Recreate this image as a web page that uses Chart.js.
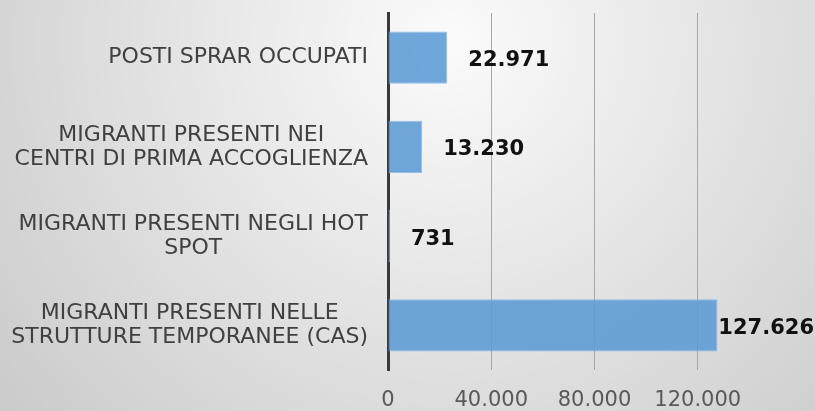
<!DOCTYPE html>
<html>
<head>
<meta charset="utf-8">
<script src="https://cdn.jsdelivr.net/npm/chart.js@4/dist/chart.umd.min.js"></script>
<style>
  html, body { margin: 0; padding: 0; background: #dcdcdc; }
  #wrap { width: 815px; height: 411px; }
</style>
</head>
<body>
<div id="wrap"><canvas id="c" width="815" height="411"></canvas></div>
<script>
const categories = [
  ['POSTI SPRAR OCCUPATI'],
  ['MIGRANTI PRESENTI NEI', 'CENTRI DI PRIMA ACCOGLIENZA'],
  ['MIGRANTI PRESENTI NEGLI HOT', 'SPOT'],
  ['MIGRANTI PRESENTI NELLE', 'STRUTTURE TEMPORANEE (CAS)']
];
const values = [22971, 13230, 731, 127626];
const axisMax = 160000;
const tickStep = 40000;

function fmtIt(n) {
  const s = Math.round(n).toString();
  return s.replace(/\B(?=(\d{3})+(?!\d))/g, '.');
}

const bgPlugin = {
  id: 'bg',
  beforeDraw(chart) {
    const ctx = chart.ctx;
    const w = chart.width, h = chart.height;
    const g = ctx.createRadialGradient(450, 40, 0, 450, 40, 600);
    g.addColorStop(0, '#fbfbfb');
    g.addColorStop(1, '#c9c9c9');
    ctx.save();
    ctx.fillStyle = g;
    ctx.fillRect(0, 0, w, h);
    ctx.restore();
  }
};

// category labels: each block right-aligned to the axis, lines centred within the block
const catLabelPlugin = {
  id: 'catLabels',
  afterDraw(chart) {
    const ctx = chart.ctx;
    const yScale = chart.scales.y;
    const lh = 24;
    const right = chart.chartArea.left - 20;
    ctx.save();
    ctx.font = '22px "DejaVu Sans"';
    ctx.fillStyle = '#404040';
    ctx.textAlign = 'center';
    ctx.textBaseline = 'middle';
    chart.data.labels.forEach((lines, i) => {
      const yc = yScale.getPixelForTick(i);
      const bw = Math.max(...lines.map(l => ctx.measureText(l).width));
      const cx = right - bw / 2;
      lines.forEach((l, j) => {
        ctx.fillText(l, cx, yc + (j - (lines.length - 1) / 2) * lh);
      });
    });
    ctx.restore();
  }
};

const labelPlugin = {
  id: 'valueLabels',
  afterDatasetsDraw(chart) {
    const ctx = chart.ctx;
    const meta = chart.getDatasetMeta(0);
    ctx.save();
    ctx.font = 'bold 21px "DejaVu Sans"';
    ctx.fillStyle = '#111111';
    ctx.textAlign = 'left';
    ctx.textBaseline = 'middle';
    meta.data.forEach((bar, i) => {
      const txt = fmtIt(chart.data.datasets[0].data[i]);
      const tw = ctx.measureText(txt).width;
      let x = bar.x + 21;
      if (x + tw > chart.width - 1) x = chart.width - 1 - tw;
      ctx.fillText(txt, x, bar.y + 3);
    });
    ctx.restore();
  }
};

new Chart(document.getElementById('c'), {
  type: 'bar',
  data: {
    labels: categories,
    datasets: [{
      data: values,
      backgroundColor: 'rgba(91,155,213,0.88)',
      borderColor: 'rgba(140,185,228,0.9)',
      borderWidth: 1,
      barPercentage: 0.585,
      categoryPercentage: 1.0
    }]
  },
  options: {
    indexAxis: 'y',
    responsive: false,
    animation: false,
    layout: { padding: { top: 13, left: 0, right: 14, bottom: 0 } },
    plugins: {
      legend: { display: false },
      tooltip: { enabled: false }
    },
    scales: {
      x: {
        min: 0,
        max: axisMax,
        ticks: {
          stepSize: tickStep,
          padding: 20,
          color: '#595959',
          font: { family: 'DejaVu Sans', size: 21, lineHeight: 1 },
          maxRotation: 0,
          autoSkip: false,
          callback: (v) => (v >= axisMax ? '' : fmtIt(v))
        },
        afterFit(scale) { scale.height = 41; scale.paddingLeft = 0; scale.paddingRight = 0; },
        grid: {
          color: (c) => (c.tick && c.tick.value >= axisMax ? 'rgba(0,0,0,0)' : '#a8a8a8'),
          lineWidth: 1,
          drawTicks: false
        },
        border: { display: false }
      },
      y: {
        ticks: { display: false },
        afterFit(scale) { scale.width = 388; scale.paddingTop = 0; scale.paddingBottom = 0; },
        grid: { display: false, drawTicks: false },
        border: { display: true, color: '#3a3a3a', width: 3 }
      }
    }
  },
  plugins: [bgPlugin, labelPlugin, catLabelPlugin]
});
</script>
</body>
</html>
